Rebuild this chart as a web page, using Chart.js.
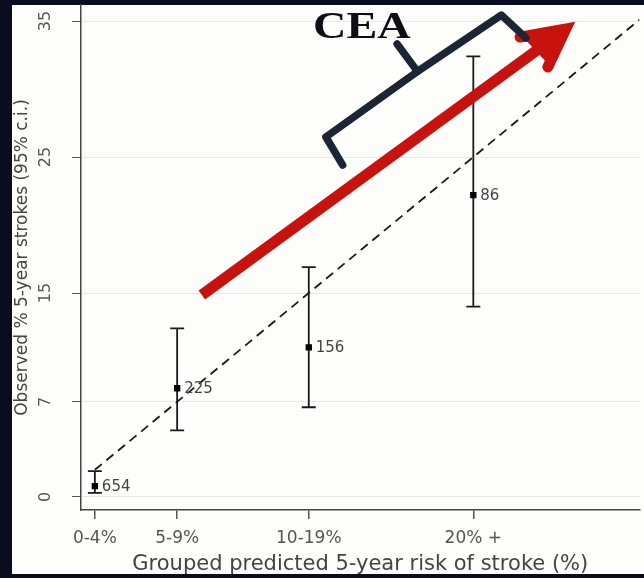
<!DOCTYPE html>
<html>
<head>
<meta charset="utf-8">
<script src="https://cdn.jsdelivr.net/npm/chart.js@4"></script>
<style>
  html, body { margin: 0; padding: 0; background: #0a0d1f; }
  #wrap { width: 644px; height: 578px; }
</style>
</head>
<body>
<div id="wrap"><canvas id="chart" width="644" height="578"></canvas></div>
<script>
// grouped predicted risk (x) and observed strokes (y)
const groupLabels = ['0-4%', '5-9%', '10-19%', '20% +'];
const predictedRisk = [2, 7, 15, 25];
const observedPct = [0.8, 8.0, 11.0, 22.2];
const ciLower = [0.3, 4.9, 6.6, 14.0];
const ciUpper = [1.9, 12.4, 16.9, 32.4];
const groupN = [654, 225, 156, 86];
const yTicks = [0, 7, 15, 25, 35];
const diagonal = [2, 35.1];

// annotation shapes, in data units
const arrowShaft = [[8.5, 14.85], [30.86, 34.63]];
const arrowBarbs = [[27.84, 33.82], [29.53, 31.62]];
const bracePath = [[17.06, 24.41], [16.04, 26.47], [21.5, 31.2], [26.7, 35.44], [28.2, 33.75]];
const braceTip = [[21.6, 31.3], [20.37, 33.31]];
const ceaLabel = { text: 'CEA', x: 18.23, y: 33.75 };

const FONT = '"DejaVu Sans", sans-serif';

const frame = {
  id: 'frame',
  beforeDraw(chart) {
    const c = chart.ctx;
    c.save();
    c.fillStyle = '#0a0d1f';
    c.fillRect(0, 0, chart.width, chart.height);
    c.fillStyle = '#fdfdfc';
    c.fillRect(12, 5, chart.width - 12, 569);
    c.restore();
  },
  beforeDatasetsDraw(chart) {
    const c = chart.ctx, xs = chart.scales.x, ys = chart.scales.y;
    c.save();
    // y tick labels, rotated
    c.fillStyle = '#555';
    c.font = '16px ' + FONT;
    c.textAlign = 'center';
    c.textBaseline = 'middle';
    yTicks.forEach(v => {
      c.save();
      c.translate(46, ys.getPixelForValue(v));
      c.rotate(-Math.PI / 2);
      c.fillText(String(v), 0, 0);
      c.restore();
    });
    // error bars
    c.strokeStyle = '#1a1a1a';
    c.lineWidth = 1.8;
    predictedRisk.forEach((r, i) => {
      const px = xs.getPixelForValue(r);
      const lo = ys.getPixelForValue(ciLower[i]);
      const hi = ys.getPixelForValue(ciUpper[i]);
      c.beginPath();
      c.moveTo(px, lo); c.lineTo(px, hi);
      c.moveTo(px - 7, lo); c.lineTo(px + 7, lo);
      c.moveTo(px - 7, hi); c.lineTo(px + 7, hi);
      c.stroke();
    });
    c.restore();
  },
  afterDatasetsDraw(chart) {
    const c = chart.ctx, xs = chart.scales.x, ys = chart.scales.y;
    const P = p => [xs.getPixelForValue(p[0]), ys.getPixelForValue(p[1])];
    c.save();
    // group sizes
    c.fillStyle = '#444';
    c.font = '15px ' + FONT;
    c.textAlign = 'left';
    c.textBaseline = 'middle';
    predictedRisk.forEach((r, i) => {
      c.fillText(String(groupN[i]), xs.getPixelForValue(r) + 7, ys.getPixelForValue(observedPct[i]) + 1);
    });
    // red arrow
    const t = P(arrowShaft[0]), tip = P(arrowShaft[1]);
    c.strokeStyle = '#c8120e';
    c.lineWidth = 11;
    c.lineCap = 'butt';
    c.beginPath(); c.moveTo(t[0], t[1]); c.lineTo(tip[0] - 6, tip[1] + 4.5); c.stroke();
    c.lineCap = 'round';
    c.lineJoin = 'miter';
    const b1 = P(arrowBarbs[0]), b2 = P(arrowBarbs[1]);
    c.beginPath();
    c.moveTo(b1[0], b1[1]); c.lineTo(tip[0] - 4, tip[1] + 3); c.lineTo(b2[0], b2[1]);
    c.stroke();
    c.fillStyle = '#c8120e';
    c.beginPath();
    c.moveTo(tip[0], tip[1]); c.lineTo(b1[0], b1[1] - 3); c.lineTo(b2[0] + 3, b2[1]);
    c.closePath(); c.fill();
    // brace
    c.strokeStyle = '#1c2533';
    c.lineWidth = 7.5;
    c.lineCap = 'round';
    c.lineJoin = 'round';
    c.beginPath();
    bracePath.forEach((p, i) => { const q = P(p); i ? c.lineTo(q[0], q[1]) : c.moveTo(q[0], q[1]); });
    c.stroke();
    c.beginPath();
    const a = P(braceTip[0]), z = P(braceTip[1]);
    c.moveTo(a[0], a[1]); c.lineTo(z[0], z[1]);
    c.stroke();
    // CEA label (wide, as in the source image)
    c.fillStyle = '#0e0e14';
    c.font = 'bold 37px "Liberation Serif", serif';
    c.textAlign = 'center';
    c.textBaseline = 'alphabetic';
    const L = P([ceaLabel.x, ceaLabel.y]);
    c.translate(L[0], L[1]);
    c.scale(1.25, 1);
    c.fillText(ceaLabel.text, 0, 0);
    c.restore();
  }
};

new Chart(document.getElementById('chart'), {
  type: 'scatter',
  data: {
    datasets: [
      {
        type: 'line',
        data: diagonal.map(v => ({ x: v, y: v })),
        borderColor: '#1a1a1a',
        borderWidth: 1.8,
        borderDash: [9, 6],
        pointRadius: 0,
        fill: false
      },
      {
        data: predictedRisk.map((r, i) => ({ x: r, y: observedPct[i] })),
        pointStyle: 'rect',
        pointRadius: 4.5,
        backgroundColor: '#000',
        borderColor: '#000',
        borderWidth: 0
      }
    ]
  },
  options: {
    responsive: false,
    animation: false,
    layout: { padding: { left: 12, top: 5, right: 0, bottom: 1 } },
    plugins: { legend: { display: false }, tooltip: { enabled: false } },
    scales: {
      x: {
        type: 'linear',
        min: 1.157,
        max: 35.1,
        afterBuildTicks: s => { s.ticks = predictedRisk.map(v => ({ value: v })); },
        afterFit: s => { s.height = 67; },
        ticks: {
          callback: v => groupLabels[predictedRisk.indexOf(v)],
          color: '#555',
          font: { family: FONT, size: 17 },
          padding: 9,
          maxRotation: 0,
          autoSkip: false
        },
        grid: { drawOnChartArea: false, tickColor: '#555', tickLength: 9, lineWidth: 1.5 },
        border: { color: '#444', width: 1.5 },
        title: {
          display: true,
          text: 'Grouped predicted 5-year risk of stroke (%)',
          color: '#444',
          font: { family: FONT, size: 21 },
          padding: { top: 0, bottom: 0 }
        }
      },
      y: {
        min: -0.956,
        max: 36.18,
        afterBuildTicks: s => { s.ticks = yTicks.map(v => ({ value: v })); },
        afterFit: s => { s.width = 69; },
        ticks: { display: false },
        grid: { color: '#e8e8e6', lineWidth: 1, tickColor: '#555', tickLength: 9 },
        border: { color: '#444', width: 1.5 },
        title: {
          display: true,
          text: 'Observed % 5-year strokes (95% c.i.)',
          color: '#444',
          font: { family: FONT, size: 17 },
          padding: { top: 0, bottom: 1 }
        }
      }
    }
  },
  plugins: [frame]
});
</script>
</body>
</html>
